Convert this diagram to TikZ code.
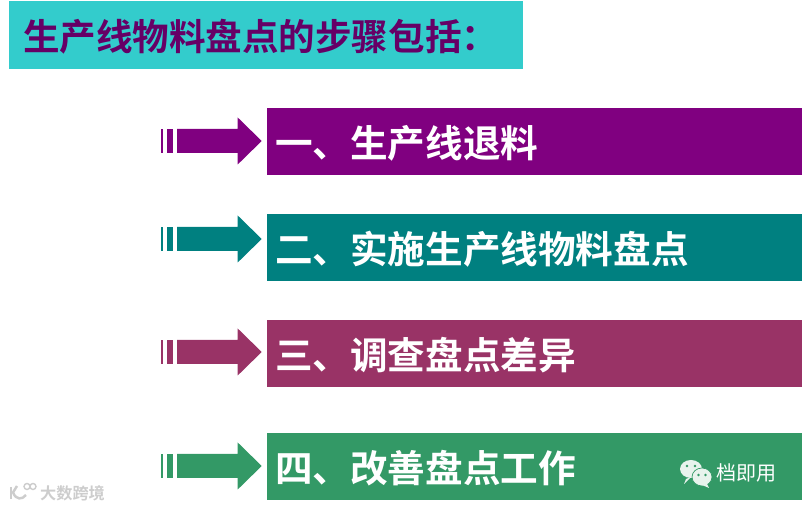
\documentclass[tikz,border=0pt]{standalone}
\usepackage{fontspec}
\newfontfamily\cjkbold{Noto Sans CJK SC Bold}
\newfontfamily\cjk{Noto Sans CJK SC}
\usepackage{xcolor}
\definecolor{TitleCyan}{RGB}{51,204,204}
\definecolor{TitleInk}{RGB}{102,0,102}
\definecolor{RowPurple}{RGB}{128,0,128}
\definecolor{RowTeal}{RGB}{0,128,128}
\definecolor{RowPlum}{RGB}{153,51,102}
\definecolor{RowGreen}{RGB}{51,153,102}
\definecolor{MarkGray}{RGB}{205,205,205}
\definecolor{BubbleWhite}{RGB}{232,243,237}
\usetikzlibrary{positioning}
\tikzset{
  rowbar/.style={inner ysep=0pt, inner xsep=0.08cm, minimum height=0.67cm,
                 text width=5.19cm, align=left, text=white,
                 text height=0.35cm, text depth=0.02cm,
                 font=\cjkbold\fontsize{10.7pt}{12pt}\selectfont},
  titlebar/.style={fill=TitleCyan, inner ysep=0pt, inner xsep=0.14cm, minimum height=0.68cm,
                 text width=4.86cm, align=left, text=TitleInk,
                 text height=0.34cm, text depth=0.02cm,
                 font=\cjkbold\fontsize{10.4pt}{12pt}\selectfont}
}

\begin{document}
\begin{tikzpicture}
    \useasboundingbox (0,0) rectangle (8.03,5.09);

    % Title
    \node[titlebar] (title) at (2.66,4.74) {生产线物料盘点的步骤包括：};

    % Rows
    \foreach \i/\rowy/\arry/\rowcol/\rowtext in {
        1/3.675/3.68/RowPurple/一、生产线退料,
        2/2.615/2.70/RowTeal/二、实施生产线物料盘点,
        3/1.555/1.57/RowPlum/三、调查盘点差异,
        4/0.425/0.43/RowGreen/四、改善盘点工作}
    {
      \node[rowbar, fill=\rowcol] (row\i) at (5.345,\rowy) {\rowtext};
      \fill[\rowcol] (1.61,\arry-0.12) rectangle (1.633,\arry+0.12);
      \fill[\rowcol] (1.67,\arry-0.12) rectangle (1.727,\arry+0.12);
      \fill[\rowcol] (1.77,\arry-0.12) -- (2.377,\arry-0.12) -- (2.377,\arry-0.235)
        -- (2.617,\arry) -- (2.377,\arry+0.235) -- (2.377,\arry+0.12)
        -- (1.77,\arry+0.12) -- cycle;
    }

    % WeChat mark
    \fill[BubbleWhite] (6.91,0.40) ellipse (0.11 and 0.09);
    \fill[BubbleWhite] (6.86,0.30) -- (6.84,0.25) -- (6.91,0.32) -- cycle;
    \fill[BubbleWhite, draw=RowGreen, line width=0.2pt] (7.02,0.32) ellipse (0.10 and 0.09);
    \fill[BubbleWhite] (7.07,0.25) -- (7.09,0.21) -- (7.02,0.24) -- cycle;
    \foreach \x/\y in {6.87/0.43, 6.95/0.43, 6.985/0.34, 7.055/0.34}
      \fill[RowGreen] (\x,\y) circle (0.014);
    \node[font=\cjk\fontsize{5.7pt}{7pt}\selectfont, text=white, inner sep=0pt] (wechatname) at (7.465,0.36) {档即用};

    % Site mark
    \draw[MarkGray, line width=0.7pt] (0.11,0.22) -- (0.11,0.10);
    \draw[MarkGray, line width=0.7pt] (0.17,0.23) -- (0.13,0.165)
      .. controls (0.16,0.09) and (0.22,0.09) .. (0.26,0.14);
    \draw[MarkGray, line width=0.4pt] (0.27,0.225) circle (0.03) (0.33,0.225) circle (0.03);
    \node[font=\cjkbold\fontsize{4.6pt}{6pt}\selectfont, text=MarkGray, inner sep=0pt] (sitename) at (0.725,0.16) {大数跨境};
  \end{tikzpicture}
\end{document}
